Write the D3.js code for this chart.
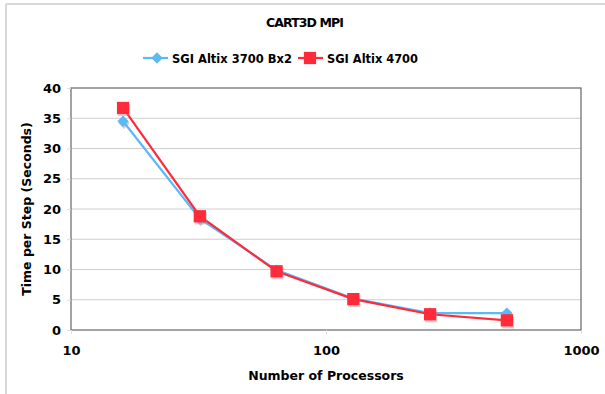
<!DOCTYPE html>
<html>
<head>
<meta charset="utf-8">
<script src="https://cdn.jsdelivr.net/npm/d3@7"></script>
<style>
  body { margin: 0; background: #fff; }
  text { font-family: "DejaVu Sans", Verdana, sans-serif; font-weight: bold; fill: #000; }
</style>
</head>
<body>
<div id="chart"></div>
<script>
let processors = [16, 32, 64, 128, 256, 512];
let altix3700 = [34.5, 18.4, 9.9, 5.2, 2.8, 2.8];
let altix4700 = [36.7, 18.8, 9.7, 5.1, 2.6, 1.6];
let seriesNames = ["SGI Altix 3700 Bx2", "SGI Altix 4700"];
let yTicks = [0, 5, 10, 15, 20, 25, 30, 35, 40];
let xTicks = [10, 100, 1000];

let margin = { top: 88, right: 24, bottom: 64, left: 71 };
let width = 605 - margin.left - margin.right;
let height = 394 - margin.top - margin.bottom;

let svg = d3.select('#chart').append('svg')
    .attr('width', 605)
    .attr('height', 394)

// outer frame (top and left edges visible)
svg.append('line').attr('x1', 6).attr('x2', 605).attr('y1', 4).attr('y2', 4)
    .style('stroke', '#d8d8d8').style('stroke-width', 2)
svg.append('line').attr('x1', 6).attr('x2', 6).attr('y1', 4).attr('y2', 394)
    .style('stroke', '#d8d8d8').style('stroke-width', 2)

let xScale = d3.scaleLog()
    .domain([10, 1000])
    .range([0, width])

let yScale = d3.scaleLinear()
    .domain([0, 40])
    .range([height, 0])

let g = svg.append('g')
    .attr('transform', 'translate(' + margin.left + ', ' + margin.top + ')')

// grid lines
g.selectAll('line.grid').data(yTicks.slice(1, -1))
    .enter().append('line')
    .attr('class', 'grid')
    .attr('x1', 0).attr('x2', width)
    .attr('y1', function (d) { return yScale(d); })
    .attr('y2', function (d) { return yScale(d); })
    .style('stroke', '#cfcfcf')
    .style('stroke-width', 1)

// plot frame
g.append('rect')
    .attr('width', width).attr('height', height)
    .style('fill', 'none')
    .style('stroke', '#666')
    .style('stroke-width', 1.2)

let yAxis = d3.axisLeft(yScale)
    .tickValues(yTicks)
    .tickSize(4)
    .tickPadding(6)
let yGuide = g.append('g')
yAxis(yGuide)
yGuide.select('path').remove()
yGuide.selectAll('line').style('stroke', '#ddd')
yGuide.selectAll('text').style('font-size', '13px').attr('fill', '#000')

let xAxis = d3.axisBottom(xScale)
    .tickValues(xTicks)
    .tickFormat(d3.format('d'))
    .tickSize(4)
    .tickPadding(12)
let xGuide = g.append('g').attr('transform', 'translate(0, ' + height + ')')
xAxis(xGuide)
xGuide.select('path').remove()
xGuide.selectAll('line').style('stroke', '#ddd')
xGuide.selectAll('text').style('font-size', '13px').attr('fill', '#000')

// axis titles
svg.append('text')
    .attr('x', margin.left + width / 2).attr('y', 380)
    .attr('text-anchor', 'middle')
    .style('font-size', '12.5px')
    .text('Number of Processors')

svg.append('text')
    .attr('transform', 'translate(31, ' + (margin.top + height / 2) + ') rotate(-90)')
    .attr('text-anchor', 'middle')
    .style('font-size', '12.5px')
    .text('Time per Step (Seconds)')

svg.append('text')
    .attr('x', 266).attr('y', 27)
    .attr('textLength', 78)
    .style('font-size', '12.5px')
    .text('CART3D MPI')

let colorsList = ['#5ab9f7', '#ff2a3a'];
let dataList = [altix3700, altix4700];

let line = d3.line()
    .x(function (d, i) { return xScale(processors[i]); })
    .y(function (d) { return yScale(d); })

let diamond = d3.symbol().type(d3.symbolSquare).size(64);
let square = d3.symbol().type(d3.symbolSquare).size(150);
let rotations = [45, 0];

dataList.forEach(function (values, s) {
    g.append('path')
        .datum(values)
        .attr('d', line)
        .style('fill', 'none')
        .style('stroke', colorsList[s])
        .style('stroke-width', 2.2)

    let sym = s === 0 ? diamond : square;
    let pts = g.selectAll('g.pt' + s).data(values).enter().append('g')
        .attr('transform', function (d, i) {
            return 'translate(' + xScale(processors[i]) + ',' + yScale(d) + ')';
        })
    pts.append('path')
        .attr('d', sym)
        .attr('transform', 'translate(1,2) rotate(' + rotations[s] + ')')
        .style('fill', '#999').style('opacity', 0.45)
    pts.append('path')
        .attr('d', sym)
        .attr('transform', 'rotate(' + rotations[s] + ')')
        .style('fill', colorsList[s])
})

// legend
let legendItems = [
    { x: 143, textX: 172, len: 120 },
    { x: 298, textX: 327, len: 91 }
];
legendItems.forEach(function (item, s) {
    let lg = svg.append('g')
    lg.append('line')
        .attr('x1', item.x).attr('x2', item.x + 25)
        .attr('y1', 58).attr('y2', 58)
        .style('stroke', colorsList[s]).style('stroke-width', 2.2)
    lg.append('path')
        .attr('d', s === 0 ? diamond : square)
        .attr('transform', 'translate(' + (item.x + (s === 0 ? 14 : 12)) + ',58) rotate(' + rotations[s] + ')')
        .style('fill', colorsList[s])
    lg.append('text')
        .attr('x', item.textX).attr('y', 63)
        .attr('textLength', item.len)
        .attr('lengthAdjust', 'spacingAndGlyphs')
        .style('font-size', '12.5px')
        .text(seriesNames[s])
})
</script>
</body>
</html>
